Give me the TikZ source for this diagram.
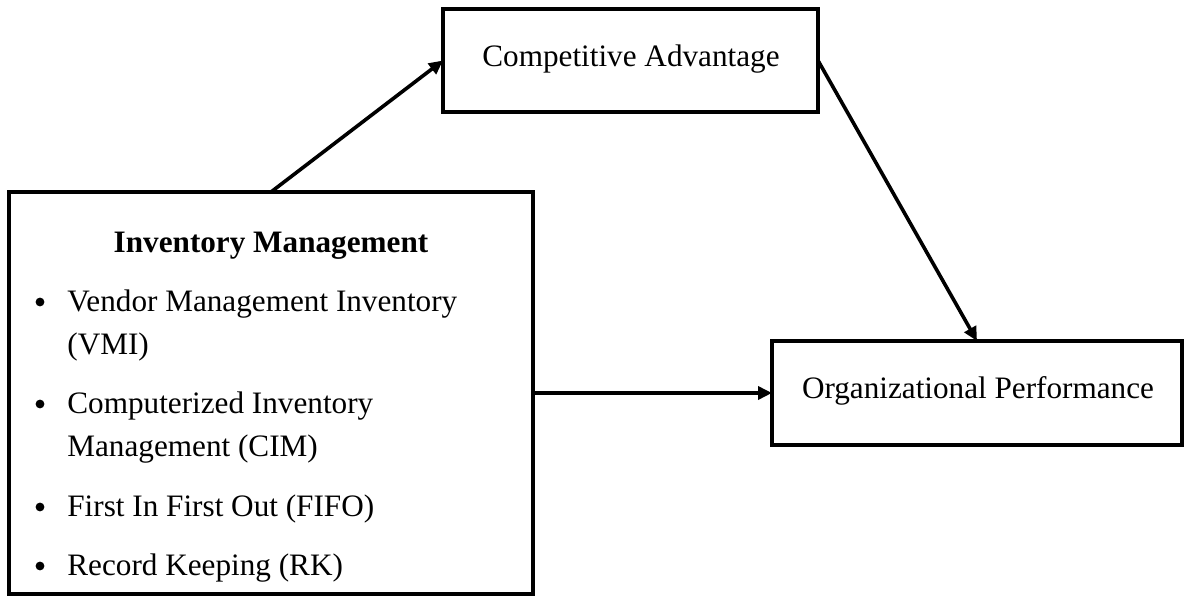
\documentclass[tikz,border=0pt]{standalone}
\usepackage{fontspec}
\setmainfont{Liberation Serif}
\usetikzlibrary{arrows.meta}
\begin{document}
\begin{tikzpicture}[x=0.5pt,y=-0.5pt,
  box/.style={draw, line width=1.7pt, inner sep=0pt, outer sep=0pt},
  link/.style={line width=1.8pt, -{Triangle[length=7pt,width=6.5pt]}},
  lbl/.style={inner sep=0pt, font=\fontsize{15.6pt}{19pt}\selectfont},
  bulletdot/.style={circle, fill, inner sep=0pt, minimum size=4.4pt}]
\useasboundingbox (0,0) rectangle (1184,597);

% the three construct boxes
\node[box, minimum width=187.5pt, minimum height=51.5pt] (CA) at (630.5,60.5) {};
\node[box, minimum width=205pt, minimum height=52pt] (OP) at (977,393) {};
\node[box, minimum width=262pt, minimum height=201pt] (IM) at (271,393) {};

% box labels
\node[lbl, anchor=base] (catext) at (631,67) {Competitive Advantage};
\node[lbl, anchor=base] (optext) at (978,399) {Organizational Performance};
\node[lbl, anchor=base, font=\fontsize{15.6pt}{19pt}\selectfont\bfseries] (imtitle) at (271,253) {Inventory Management};

% bulleted dimensions of inventory management
\node[bulletdot] (b1) at (40,302) {};
\node[lbl, anchor=base west] (i1a) at (67,312) {Vendor Management Inventory};
\node[lbl, anchor=base west] (i1b) at (67,355) {(VMI)};
\node[bulletdot] (b2) at (40,404) {};
\node[lbl, anchor=base west] (i2a) at (67,414) {Computerized Inventory};
\node[lbl, anchor=base west] (i2b) at (67,457) {Management (CIM)};
\node[bulletdot] (b3) at (40,507) {};
\node[lbl, anchor=base west] (i3) at (67,517) {First In First Out (FIFO)};
\node[bulletdot] (b4) at (40,566) {};
\node[lbl, anchor=base west] (i4) at (67,576) {Record Keeping (RK)};

% hypothesised paths
\draw[link] (IM.north) -- (CA.west);
\draw[link] (CA.east) -- (OP.north);
\draw[link] (IM.east) -- (OP.west);
\end{tikzpicture}
\end{document}
